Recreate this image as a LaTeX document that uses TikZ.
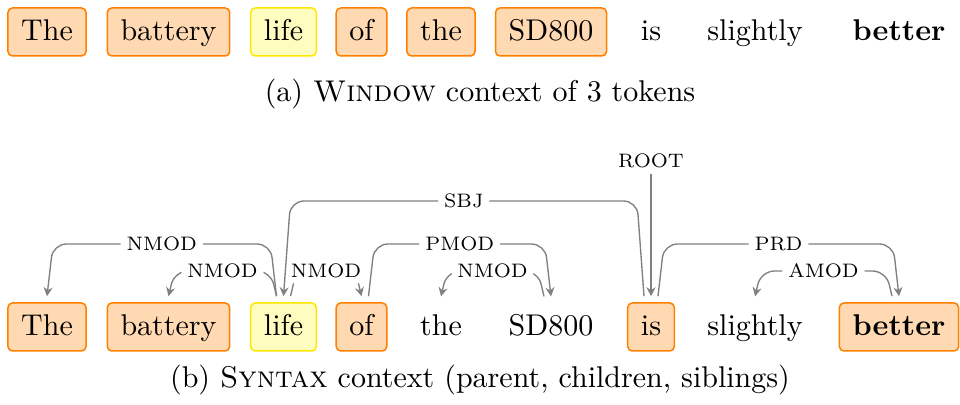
\documentclass[tikz,border=0pt]{standalone}
\usetikzlibrary{calc,arrows.meta}
\begin{document}
\begin{tikzpicture}[x=0.33333pt,y=-0.33333pt,
  word/.style={anchor=base, inner xsep=4.4pt, inner ysep=3pt, text height=8pt, text depth=2pt, font=\normalsize},
  ob/.style={word, draw=orange, fill=orange!30, rounded corners=1.5pt, line width=0.5pt},
  yb/.style={word, draw=yellow!90!orange, fill=yellow!25, rounded corners=1.5pt, line width=0.5pt},
  dep/.style={draw=gray, line width=0.45pt, rounded corners=4.5pt, -{Stealth[length=3pt,width=3pt,inset=1pt]}},
  lbl/.style={fill=white, inner sep=2pt, font=\fontsize{6.5}{8}\selectfont, text=black},
  captxt/.style={anchor=base, inner sep=0pt, font=\normalsize},
]
\useasboundingbox (0,0) rectangle (960,405);

% ---------- (a) window context ----------
\node[ob]   (u1) at (47,41)    {The};
\node[ob]   (u2) at (168.5,41) {battery};
\node[yb]   (u3) at (283.5,41) {life};
\node[ob]   (u4) at (361.5,41) {of};
\node[ob]   (u5) at (441,41)   {the};
\node[ob]   (u6) at (551,41)   {SD800};
\node[word] (u7) at (651,41)   {is};
\node[word] (u8) at (755,41)   {slightly};
\node[word] (u9) at (899,41)   {\textbf{better}};
\node[captxt] (capa) at (480,102) {(a) \textsc{Window} context of 3 tokens};

% ---------- (b) syntax context ----------
\node[ob]   (w1) at (47,336)    {The};
\node[ob]   (w2) at (168.5,336) {battery};
\node[yb]   (w3) at (283.5,336) {life};
\node[ob]   (w4) at (361.5,336) {of};
\node[word] (w5) at (441,336)   {the};
\node[word] (w6) at (551,336)   {SD800};
\node[ob]   (w7) at (651,336)   {is};
\node[word] (w8) at (755,336)   {slightly};
\node[ob]   (w9) at (899,336)   {\textbf{better}};
\node[captxt] (capb) at (480,388) {(b) \textsc{Syntax} context (parent, children, siblings)};

% levels
\coordinate (L0) at (0,160.5);
\coordinate (L1) at (0,201);
\coordinate (L2) at (0,244);
\coordinate (L3) at (0,271);

% edge targets (centre) and sources (offset)
\foreach \i in {1,...,9}{
  \coordinate (t\i) at ([yshift=2pt]w\i.north);
  \coordinate (l\i) at ([xshift=-2.33pt,yshift=2pt]w\i.north);
  \coordinate (r\i) at ([xshift=2.33pt,yshift=2pt]w\i.north);
}

% NMOD life -> The
\draw[dep] (l3) -- ($(l3 |- L2)+(-6,0)$) -- node[lbl,midway]{NMOD} ($(t1 |- L2)+(6,0)$) -- (t1);
% NMOD life -> battery
\draw[dep] (l3) -- ($(l3 |- L3)+(-6,0)$) -- node[lbl,midway]{NMOD} ($(t2 |- L3)+(6,0)$) -- (t2);
% NMOD life -> of
\draw[dep] (r3) -- ($(r3 |- L3)+(6,0)$) -- node[lbl,midway]{NMOD} ($(t4 |- L3)+(-6,0)$) -- (t4);
% SBJ is -> life
\draw[dep] (l7) -- ($(l7 |- L1)+(-7,0)$) -- node[lbl,midway]{SBJ} ($(t3 |- L1)+(7,0)$) -- (t3);
% PMOD of -> SD800
\draw[dep] (r4) -- ($(r4 |- L2)+(6,0)$) -- node[lbl,midway]{PMOD} ($(t6 |- L2)+(-6,0)$) -- (t6);
% NMOD SD800 -> the
\draw[dep] (l6) -- ($(l6 |- L3)+(-6,0)$) -- node[lbl,midway]{NMOD} ($(t5 |- L3)+(6,0)$) -- (t5);
% ROOT
\node[lbl] (root) at (t7 |- L0) {ROOT};
\draw[dep] (root) -- (t7);
% PRD is -> better
\draw[dep] (r7) -- ($(r7 |- L2)+(6,0)$) -- node[lbl,midway]{PRD} ($(t9 |- L2)+(-6,0)$) -- (t9);
% AMOD better -> slightly
\draw[dep] (l9) -- ($(l9 |- L3)+(-6,0)$) -- node[lbl,midway]{AMOD} ($(t8 |- L3)+(6,0)$) -- (t8);
\end{tikzpicture}
\end{document}
